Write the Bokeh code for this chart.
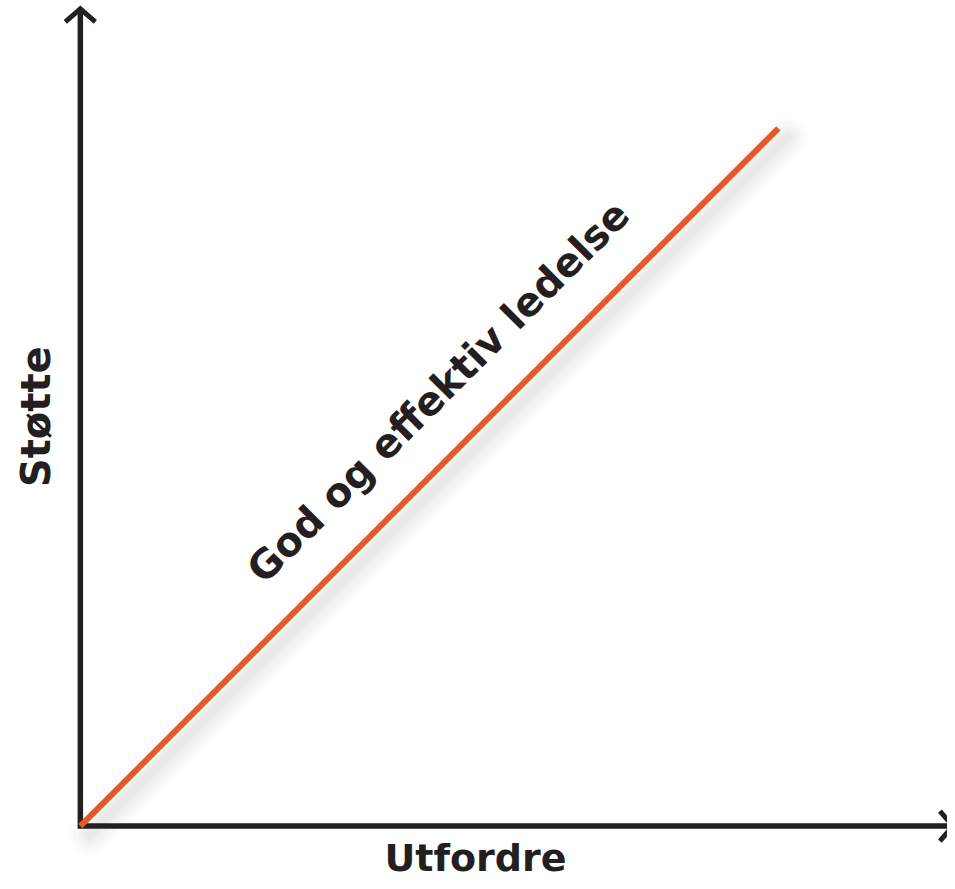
from math import pi
from bokeh.plotting import figure
from bokeh.models import Range1d, Label
from bokeh.embed import file_html
from bokeh.resources import INLINE

# ---- data (conceptual units) ----
line_x = [0, 80]
line_y = [0, 80]
axis_max_x = 100.0
axis_max_y = 93.7
x_label = "Utfordre"
y_label = "Støtte"
line_label = "God og effektiv ledelse"

INK = "#231F20"
ORANGE = "#E35A29"
FONT = "DejaVu Sans"

px = 8.72  # approx pixels per unit (used only for pixel-sized decorations)

p = figure(width=947, height=881, x_range=Range1d(-9.15, 99.38),
           y_range=Range1d(-6.36, 94.66), output_backend="svg",
           toolbar_location=None, min_border=0, x_axis_type=None,
           y_axis_type=None)
p.grid.visible = False
p.outline_line_color = None
p.background_fill_color = "white"
p.border_fill_color = "white"

# shadow of the line (soft, offset down-right)
off = 9 / px
sx = [v + off for v in line_x]
sy = [v - off for v in line_y]
for w, a in [(40, 0.025), (32, 0.03), (24, 0.035), (16, 0.04), (10, 0.045)]:
    p.line(sx, sy, line_width=w, line_color="#808080", line_alpha=a,
           line_cap="round")

# axes as an L shape
p.line([0, 0, axis_max_x], [axis_max_y, 0, 0], line_width=5.5,
       line_color=INK, line_join="miter")

# arrow heads (chevrons)
hw = 15 / px
hl = 13 / px
p.line([-hw, 0, hw], [axis_max_y - hl, axis_max_y, axis_max_y - hl],
       line_width=5, line_color=INK, line_join="miter")
p.line([axis_max_x - hl, axis_max_x, axis_max_x - hl], [hw, 0, -hw],
       line_width=5, line_color=INK, line_join="miter")

# main line
p.line(line_x, line_y, line_width=6, line_color=ORANGE)

# labels (anchored at their vertical middle)
p.add_layout(Label(x=45.28, y=-3.68, text=x_label, text_font=FONT,
                   text_font_style="bold", text_font_size="38px",
                   text_color=INK, text_align="center",
                   text_baseline="middle"))
p.add_layout(Label(x=-5.12, y=46.94, text=y_label, text_font=FONT,
                   text_font_style="bold", text_font_size="40px",
                   text_color=INK, text_align="center",
                   text_baseline="middle", angle=pi / 2))
p.add_layout(Label(x=41.0, y=49.8, text=line_label, text_font=FONT,
                   text_font_style="bold", text_font_size="40px",
                   text_color=INK, text_align="center",
                   text_baseline="middle", angle=pi / 4))

open("out.html", "w").write(file_html(p, INLINE))
